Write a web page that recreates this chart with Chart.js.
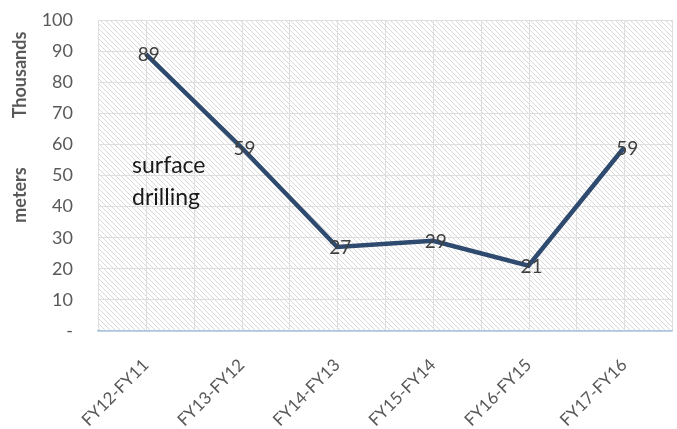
<!DOCTYPE html>
<html>
<head>
<meta charset="utf-8">
<script src="https://cdn.jsdelivr.net/npm/chart.js@4"></script>
<style>
  html, body { margin: 0; padding: 0; background: #fff; }
  #wrap { width: 677px; height: 429px; position: relative; }
</style>
</head>
<body>
<div id="wrap"><canvas id="drilling"></canvas></div>
<script>
const periods = ['FY12-FY11', 'FY13-FY12', 'FY14-FY13', 'FY15-FY14', 'FY16-FY15', 'FY17-FY16'];
const meters = [89, 59, 27, 29, 21, 59];
const yTicks = [0, 10, 20, 30, 40, 50, 60, 70, 80, 90, 100];

const FONT = 'Lato, "Open Sans", sans-serif';

// diagonal hatch used by the plot area
function makeHatch() {
    const c = document.createElement('canvas');
    c.width = 5;
    c.height = 5;
    const g = c.getContext('2d');
    g.strokeStyle = '#d9d9d9';
    g.lineWidth = 1;
    g.beginPath();
    g.moveTo(-1, -1); g.lineTo(6, 6);
    g.moveTo(-1, 4); g.lineTo(1, 6);
    g.moveTo(4, -1); g.lineTo(6, 1);
    g.stroke();
    return c;
}

const backdropPlugin = {
    id: 'backdrop',
    beforeDraw(chart) {
        const { ctx, chartArea: a, scales } = chart;
        ctx.save();
        ctx.fillStyle = ctx.createPattern(makeHatch(), 'repeat');
        ctx.fillRect(a.left, a.top, a.right - a.left, a.bottom - a.top);

        // vertical grid on category centres and category edges
        ctx.strokeStyle = '#dedede';
        ctx.lineWidth = 1;
        const x = scales.x;
        const half = (x.getPixelForValue(1) - x.getPixelForValue(0)) / 2;
        ctx.beginPath();
        for (let i = 0; i < periods.length; i++) {
            const px = x.getPixelForValue(i);
            [px - half, px, px + half].forEach(v => {
                const r = Math.round(v) + 0.5;
                ctx.moveTo(r, a.top);
                ctx.lineTo(r, a.bottom);
            });
        }
        ctx.stroke();
        ctx.restore();
    },
    afterDraw(chart) {
        const { ctx } = chart;
        ctx.save();
        // axis titles
        ctx.fillStyle = '#595959';
        ctx.font = 'bold 18px ' + FONT;
        ctx.textAlign = 'center';
        ctx.textBaseline = 'middle';
        [['Thousands', 75], ['meters', 195]].forEach(([t, y]) => {
            ctx.save();
            ctx.translate(20, y);
            ctx.rotate(-Math.PI / 2);
            ctx.fillText(t, 0, 0);
            ctx.restore();
        });

        // note inside the plot
        ctx.fillStyle = '#1a1a1a';
        ctx.font = '23px ' + FONT;
        ctx.textAlign = 'left';
        ctx.fillText('surface', 132, 166);
        ctx.fillText('drilling', 132, 198);

        // value labels centred on the points
        const meta = chart.getDatasetMeta(0);
        ctx.fillStyle = '#404040';
        ctx.font = '19px ' + FONT;
        ctx.textAlign = 'center';
        meta.data.forEach((pt, i) => {
            ctx.fillText(String(meters[i]), pt.x + 3, pt.y + 1);
        });
        ctx.restore();
    }
};

new Chart(document.getElementById('drilling').getContext('2d'), {
    type: 'line',
    data: {
        labels: periods,
        datasets: [{
            data: meters,
            borderColor: '#2e4a6e',
            borderWidth: 4.5,
            pointRadius: 0,
            tension: 0,
            fill: false
        }]
    },
    options: {
        responsive: true,
        maintainAspectRatio: false,
        animation: false,
        layout: { padding: { top: 20, right: 5, left: 0, bottom: 0 } },
        plugins: {
            legend: { display: false },
            title: { display: false },
            tooltip: { enabled: false }
        },
        scales: {
            x: {
                type: 'category',
                offset: true,
                grid: { display: false, drawTicks: false },
                border: { display: true, color: '#a9c4e4', width: 1.5 },
                ticks: {
                    color: '#595959',
                    font: { family: FONT, size: 17 },
                    maxRotation: 45,
                    minRotation: 45,
                    padding: 24
                },
                afterFit(scale) { scale.height = 98; }
            },
            y: {
                min: 0,
                max: 100,
                afterBuildTicks(scale) { scale.ticks = yTicks.map(v => ({ value: v })); },
                grid: { color: '#dedede', drawTicks: true, tickLength: 22, tickColor: 'rgba(0,0,0,0)' },
                border: { display: false },
                ticks: {
                    color: '#595959',
                    font: { family: FONT, size: 18 },
                    padding: 3,
                    callback: v => (v === 0 ? '-' : v)
                },
                afterFit(scale) { scale.width = 98; }
            }
        }
    },
    plugins: [backdropPlugin]
});
</script>
</body>
</html>
